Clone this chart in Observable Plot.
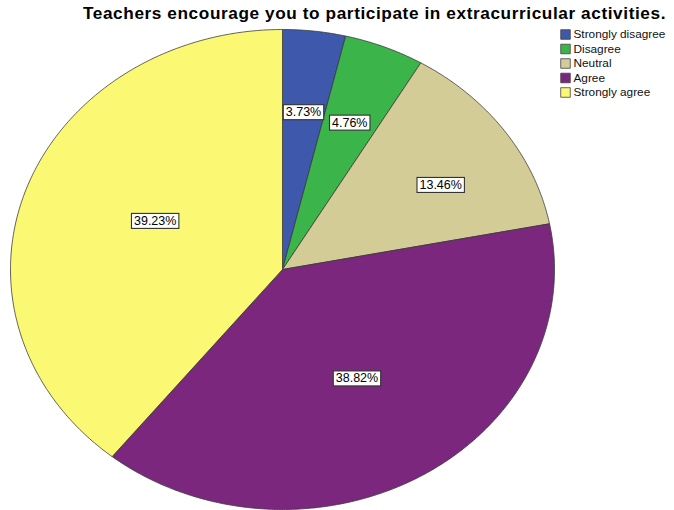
<!DOCTYPE html>
<html><head><meta charset="utf-8">
<script src="https://cdn.jsdelivr.net/npm/d3@7"></script>
<script src="https://cdn.jsdelivr.net/npm/@observablehq/plot@0.6"></script>
<style>
body{margin:0;background:#fff;font-family:Arial,"Liberation Sans",sans-serif;}
#chart{position:relative;width:674px;height:510px;}
.chart-title text{letter-spacing:0.6px;}
</style></head><body><div id="chart"></div>
<script>
const categories = ["Strongly disagree","Disagree","Neutral","Agree","Strongly agree"];
const percents = [3.73, 4.76, 13.46, 38.82, 39.23];
const colors = ["#3E58AC","#3BB54A","#D4CC97","#7B277D","#FBF873"];
const labelFrac = [0.66, 0.66, 0.68, 0.53, 0.51];
const labelAngleShift = [0, 0, 4, 0, 4];

const pie = d3.pie().sort(null).value(d => d)(percents);
const poly = [];
pie.forEach((p, i) => {
  const cat = categories[i];
  poly.push({cat, x: 0, y: 0});
  const n = Math.max(4, Math.ceil((p.endAngle - p.startAngle) / (Math.PI / 360)));
  for (let k = 0; k <= n; k++) {
    const a = p.startAngle + (p.endAngle - p.startAngle) * k / n;
    poly.push({cat, x: Math.sin(a), y: Math.cos(a)});
  }
  poly.push({cat, x: 0, y: 0});
});
const labels = pie.map((p, i) => {
  const a = (p.startAngle + p.endAngle) / 2 + labelAngleShift[i] * Math.PI / 180;
  return {text: percents[i].toFixed(2) + "%", x: labelFrac[i] * Math.sin(a), y: labelFrac[i] * Math.cos(a)};
});

const legendMarks = categories.flatMap((c, i) => [
  Plot.dot([c], {frameAnchor: "top-left", dx: 565, dy: 34 + i * 14.5, symbol: "square", r: 5.4, fill: colors[i], stroke: "#444", strokeWidth: 0.8}),
  Plot.text([c], {frameAnchor: "top-left", dx: 573, dy: 34 + i * 14.5, lineAnchor: "middle", text: d => d, textAnchor: "start", fontSize: 11.8, fill: "#111"})
]);

const chart = Plot.plot({
  width: 674, height: 510,
  margin: 0,
  x: {domain: [-1, 1], range: [10, 554], axis: null},
  y: {domain: [-1, 1], range: [509, 29], axis: null},
  color: {domain: categories, range: colors},
  style: {fontFamily: "Arial, 'Liberation Sans', sans-serif", background: "white"},
  marks: [
    Plot.line(poly, {x: "x", y: "y", z: "cat", fill: "cat", stroke: "#3a3a3a", strokeWidth: 0.8, curve: "linear"}),
    Plot.text(labels, {x: "x", y: "y", text: "text", fontSize: 12.5, fill: "#000", className: "pct-labels"}),
    Plot.text(["Teachers encourage you to participate in extracurricular activities."], {frameAnchor: "top", dx: 37, dy: 13, lineAnchor: "middle", text: d => d, fontSize: 17.2, fontWeight: "bold", fill: "#000", className: "chart-title"}),
    ...legendMarks
  ]
});
document.getElementById("chart").appendChild(chart);

// white boxes behind percentage labels
d3.select(chart).selectAll(".pct-labels text").each(function() {
  const b = this.getBBox();
  const parent = this.parentNode;
  const r = document.createElementNS("http://www.w3.org/2000/svg", "rect");
  r.setAttribute("x", b.x - 2.5);
  r.setAttribute("y", b.y - 0.5);
  r.setAttribute("width", b.width + 5);
  r.setAttribute("height", b.height + 1);
  r.setAttribute("fill", "white");
  r.setAttribute("stroke", "#333");
  r.setAttribute("stroke-width", "1.1");
  const t = this.getAttribute("transform");
  if (t) r.setAttribute("transform", t);
  parent.insertBefore(r, this);
});
</script></body></html>
